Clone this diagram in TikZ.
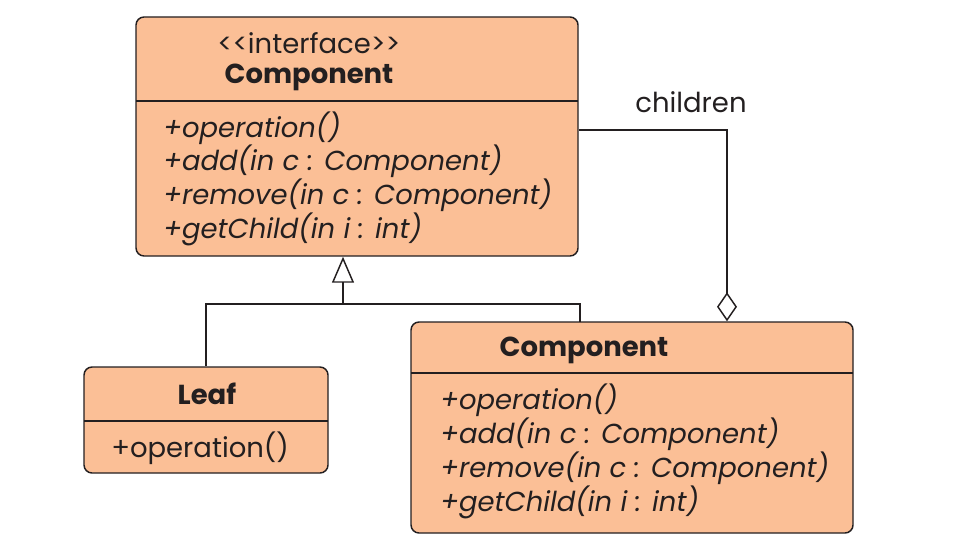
\documentclass[tikz,border=0pt]{standalone}
\usepackage{fontspec}
\setmainfont{Poppins}
\usetikzlibrary{arrows.meta}
\definecolor{boxfill}{RGB}{251,191,150}
\definecolor{ink}{RGB}{35,31,32}
\begin{document}
\begin{tikzpicture}[x=0.75pt,y=-0.75pt,
  umlbox/.style={draw=ink,line width=1.1pt,fill=boxfill,rounded corners=6pt,inner sep=0pt},
  divider/.style={draw=ink,line width=1.1pt},
  conn/.style={draw=ink,line width=1.4pt},
  txt/.style={inner sep=0pt,text=ink,font=\fontsize{20.6}{24}\selectfont},
  meth/.style={txt,anchor=west,font=\fontsize{20.6}{24}\selectfont\itshape},
  title/.style={txt,font=\fontsize{20.6}{24}\selectfont\bfseries}]
\useasboundingbox (0,0) rectangle (970,556);
% interface box
\node[umlbox,minimum width=331.5pt,minimum height=179.25pt] (iface) at (357,136.5) {};
\draw[divider] (136,101) -- (578,101);
\node[txt] (stereo) at (309,43) {{<}{<}interface{>}{>}};
\node[title] (ititle) at (309,77) {Component};
\node[meth] (i1) at (163,128) {+operation()};
\node[meth] (i2) at (163,161) {+add(in c : Component)};
\node[meth] (i3) at (163,195) {+remove(in c : Component)};
\node[meth] (i4) at (163,229) {+getChild(in i : int)};
% leaf box
\node[umlbox,minimum width=183pt,minimum height=79.5pt] (leaf) at (206,420) {};
\draw[divider] (84,421) -- (328,421);
\node[title] (ltitle) at (207,394) {Leaf};
\node[txt,anchor=west] (l1) at (111,448) {+operation()};
% composite box
\node[umlbox,minimum width=331.5pt,minimum height=158.25pt] (comp) at (632,427.5) {};
\draw[divider] (411,373) -- (853,373);
\node[title] (ctitle) at (584,350) {Component};
\node[meth] (c1) at (440,400) {+operation()};
\node[meth] (c2) at (440,434) {+add(in c : Component)};
\node[meth] (c3) at (440,468) {+remove(in c : Component)};
\node[meth] (c4) at (440,502) {+getChild(in i : int)};
% generalization
\coordinate (j) at (343,304);
\coordinate (ct) at (580,322);
\draw[conn] (leaf.north) |- (j) -| (ct);
\draw[conn,-{Triangle[open,length=19.5pt,width=16.5pt,line width=1.1pt]}] (j) -- (j |- iface.south);
% aggregation
\coordinate (agg) at (727,130);
\draw[conn,{Diamond[open,length=21.75pt,width=15pt,line width=1.1pt]}-] (comp.north -| agg) |- (iface.east |- agg);
\node[txt] (children) at (691,102) {children};
\end{tikzpicture}
\end{document}
